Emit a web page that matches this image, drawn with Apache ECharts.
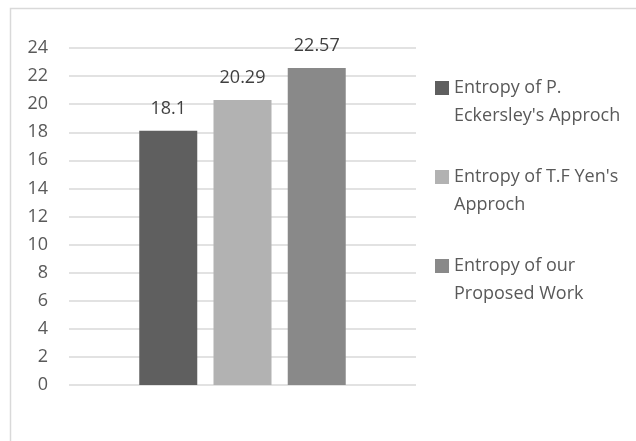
<!DOCTYPE html>
<html>
<head>
<meta charset="utf-8">
<title>Entropy comparison</title>
<script src="https://cdn.jsdelivr.net/npm/echarts@6/dist/echarts.min.js"></script>
<style>
  html, body { margin: 0; padding: 0; background: #ffffff; }
  #chart { width: 636px; height: 441px; }
</style>
</head>
<body>
<div id="chart"></div>
<script>
// Single category with three entropy measurements
const categories = [''];
const seriesNames = [
  "Entropy of P. Eckersley's Approch",
  "Entropy of T.F Yen's Approch",
  "Entropy of our Proposed Work"
];
// Legend wording split across two lines
const legendLines = {
  "Entropy of P. Eckersley's Approch": ['Entropy of P.', "Eckersley's Approch"],
  "Entropy of T.F Yen's Approch": ["Entropy of T.F Yen's", 'Approch'],
  "Entropy of our Proposed Work": ['Entropy of our', 'Proposed Work']
};
const eckersleyValues = [18.1];
const yenValues = [20.29];
const proposedValues = [22.57];
const yTicks = { min: 0, max: 24, step: 2 };

const colors = ['#5f5f5f', '#b2b2b2', '#898989'];
const FONT = '"Open Sans", "Noto Sans", sans-serif';
const TEXT = '#595959';

const valueSets = [eckersleyValues, yenValues, proposedValues];

const chart = echarts.init(document.getElementById('chart'), null, { renderer: 'canvas' });

chart.setOption({
  backgroundColor: '#ffffff',
  animation: false,
  color: colors,
  graphic: [{
    type: 'rect',
    left: 8,
    top: 6,
    shape: { width: 700, height: 500 },
    style: { fill: 'none', stroke: '#d9d9d9', lineWidth: 1.5 },
    silent: true,
    z: -1
  }],
  grid: { left: 69, right: 220, top: 48, bottom: 56, containLabel: false },
  legend: {
    orient: 'vertical',
    left: 430,
    top: 41,
    itemGap: 5,
    itemWidth: 14,
    itemHeight: 14,
    icon: 'rect',
    data: seriesNames,
    formatter: function (name) {
      const l = legendLines[name];
      return '\n' + l[0] + '\n' + l[1];
    },
    textStyle: {
      fontFamily: FONT,
      fontSize: 18,
      color: TEXT,
      lineHeight: 28,
      padding: [0, 0, 0, 0]
    }
  },
  xAxis: {
    type: 'category',
    data: categories,
    axisLine: { show: false },
    axisTick: { show: false },
    axisLabel: { show: false }
  },
  yAxis: {
    type: 'value',
    min: yTicks.min,
    max: yTicks.max,
    interval: yTicks.step,
    axisLine: { show: false },
    axisTick: { show: false },
    axisLabel: {
      fontFamily: FONT,
      fontSize: 18,
      color: TEXT,
      margin: 21
    },
    splitLine: { lineStyle: { color: '#d9d9d9', width: 1.5 } }
  },
  series: seriesNames.map(function (name, i) {
    return {
      name: name,
      type: 'bar',
      data: valueSets[i],
      barWidth: 58,
      barGap: '28%',
      itemStyle: { color: colors[i] },
      label: {
        show: true,
        position: 'top',
        distance: 13,
        fontFamily: FONT,
        fontSize: 18,
        color: '#404040'
      }
    };
  })
});
</script>
</body>
</html>
